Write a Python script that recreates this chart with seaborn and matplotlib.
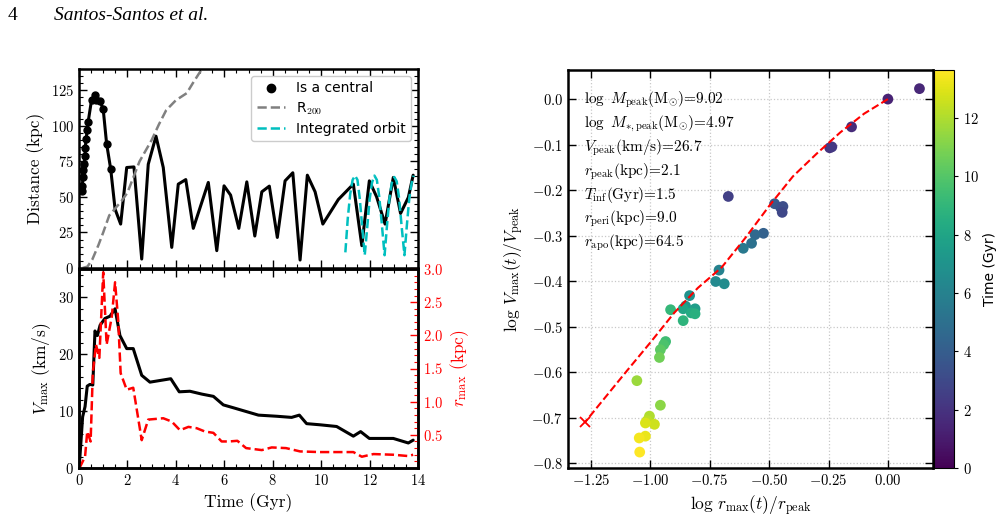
import numpy as np
import pandas as pd
import seaborn as sns
import matplotlib.pyplot as plt
from matplotlib.ticker import MultipleLocator
from matplotlib.cm import ScalarMappable
from matplotlib.colors import Normalize
from matplotlib.lines import Line2D

# ---- data: distance from host ----
t_dist = [0.11, 0.14, 0.16, 0.18, 0.22, 0.25, 0.26, 0.29, 0.34, 0.38, 0.52, 0.66, 0.70, 0.87, 1.0, 1.14, 1.31,
          1.49, 1.72, 1.97, 2.27, 2.59, 2.86, 3.18, 3.48, 3.83, 4.10, 4.41, 4.72, 5.34, 5.69, 5.99, 6.26,
          6.60, 6.93, 7.26, 7.55, 7.86, 8.19, 8.51, 8.83, 9.13, 9.43, 9.75, 10.07, 10.71, 11.33, 11.68,
          11.99, 12.29, 12.64, 12.98, 13.28, 13.60, 13.80]
dist = [54, 58, 63.7, 68.8, 73.5, 78.9, 84.7, 90.6, 96.9, 103, 118.4, 121.5, 118.4, 117.5, 111.6, 87.5, 69.5,
        41.4, 30.9, 70.7, 71.1, 6.3, 73, 92.7, 70.7, 14.5, 59, 62.2, 27.9, 60.2, 12.2, 57.8, 51.3,
        27.9, 60.6, 22.5, 53.6, 57.6, 21.5, 61.3, 67, 5.6, 65.3, 53.6, 30.9, 48.2, 59, 15.7,
        61.3, 50.1, 30.9, 63.7, 38.4, 49.6, 65.3]
n_central = 17

t_r200 = [0.15, 0.35, 0.55, 0.8, 1.0, 1.25, 1.5, 1.75, 2.0, 2.5, 3.0, 3.3, 3.6, 4.0, 4.45, 4.7, 5.0, 5.2]
r200 = [0, 1, 6, 16, 25, 37, 42, 47, 53, 75, 90, 101, 111, 118, 123, 130, 138, 145]

t_orbit = [11.0, 11.1, 11.2, 11.3, 11.4, 11.5, 11.6, 11.7, 11.8, 11.9, 12.0, 12.1, 12.2, 12.3, 12.4,
           12.5, 12.62, 12.72, 12.82, 12.92, 13.02, 13.12, 13.22, 13.32, 13.44, 13.54, 13.64, 13.74, 13.82]
d_orbit = [11, 35, 52, 62, 65, 62, 48, 28, 9, 28, 48, 60, 65, 62, 50,
           32, 9, 30, 49, 60, 64, 61, 49, 30, 9, 30, 49, 60, 65]

# ---- data: Vmax and rmax ----
t_vmax = [0.01, 0.15, 0.25, 0.34, 0.45, 0.57, 0.66, 0.76, 0.87, 1.07, 1.28, 1.49, 1.69, 1.97, 2.24, 2.59,
          2.93, 3.79, 4.14, 4.58, 5.07, 5.55, 5.96, 6.37, 6.93, 7.41, 8.17, 8.78, 9.1, 9.4, 9.95, 10.64,
          11.33, 11.63, 11.99, 12.98, 13.6, 13.8]
vmax = [0.2, 9, 10.8, 14.4, 14.7, 14.6, 24.1, 23.3, 25.1, 26.3, 26.7, 28.0, 23.3, 21, 21, 16.3,
        15.1, 15.7, 13.4, 13.5, 13.0, 12.6, 11.1, 10.6, 9.9, 9.3, 9.1, 8.9, 9.3, 7.8, 7.6, 7.3,
        5.6, 6.4, 5.2, 5.2, 4.4, 4.9]

t_rmax = [0.02, 0.25, 0.34, 0.48, 0.57, 0.70, 0.84, 1.0, 1.14, 1.35, 1.49, 1.62, 1.72, 1.97, 2.24, 2.59,
          2.86, 3.48, 3.83, 4.17, 4.52, 4.86, 5.2, 5.55, 5.89, 6.2, 6.54, 6.9, 7.55, 7.96, 8.55, 9.13,
          9.95, 11.33, 11.68, 12.16, 12.98, 13.6, 13.8]
rmax = [0.0, 0.17, 0.55, 0.4, 1.43, 1.86, 1.66, 2.95, 1.86, 2.27, 2.80, 2.22, 1.43, 1.18, 1.21, 0.42,
        0.73, 0.75, 0.70, 0.57, 0.62, 0.60, 0.55, 0.53, 0.40, 0.40, 0.41, 0.30, 0.27, 0.31, 0.30, 0.25,
        0.24, 0.24, 0.17, 0.21, 0.20, 0.18, 0.20]

# ---- data: tidal track ----
log_r = [0.133, 0.0, -0.153, -0.245, -0.236, -0.672, -0.477, -0.452, -0.442, -0.445, -0.524, -0.559,
         -0.574, -0.609, -0.711, -0.725, -0.689, -0.835, -0.852, -0.812, -0.862, -0.828, -0.812, -0.862,
         -0.915, -0.936, -0.944, -0.958, -0.962, -0.958, -1.057, -1.004, -1.014, -0.983, -1.021, -1.021,
         -1.047, -1.045]
log_v = [0.023, 0.0, -0.061, -0.107, -0.105, -0.214, -0.230, -0.238, -0.236, -0.249, -0.295, -0.298,
         -0.317, -0.328, -0.376, -0.401, -0.406, -0.432, -0.455, -0.461, -0.461, -0.470, -0.472, -0.487,
         -0.463, -0.533, -0.540, -0.551, -0.568, -0.673, -0.619, -0.697, -0.707, -0.715, -0.712, -0.741,
         -0.745, -0.776]
t_snap = [1.5, 1.3, 1.7, 2.0, 2.25, 2.6, 3.8, 3.5, 3.2, 2.9, 4.2, 4.6,
          5.1, 5.5, 6.0, 6.4, 6.6, 6.9, 7.3, 7.6, 8.0, 8.3, 8.6, 8.8,
          9.1, 9.4, 9.8, 10.2, 10.7, 11.3, 11.6, 12.0, 12.3, 12.6, 12.9, 13.2,
          13.4, 13.6]
t_max = 13.65

track_x = [0.0, -0.1, -0.2, -0.3, -0.4, -0.5, -0.6, -0.7, -0.8, -0.9, -1.0, -1.1, -1.2, -1.275]
track_y = [0.0, -0.032, -0.073, -0.12, -0.17, -0.235, -0.305, -0.37, -0.415, -0.47, -0.535, -0.598, -0.662, -0.71]

info_lines = [r"$\log\ M_{\rm peak}({\rm M}_{\odot})$=9.02",
              r"$\log\ M_{*,{\rm peak}}({\rm M}_{\odot})$=4.97",
              r"$V_{\rm peak}$(km/s)=26.7",
              r"$r_{\rm peak}$(kpc)=2.1",
              r"$T_{\rm inf}$(Gyr)=1.5",
              r"$r_{\rm peri}$(kpc)=9.0",
              r"$r_{\rm apo}$(kpc)=64.5"]

sns.set_style("ticks")
plt.rcParams.update({
    "font.family": "serif",
    "font.serif": ["cmr10", "DejaVu Serif"],
    "mathtext.fontset": "cm",
    "axes.formatter.use_mathtext": True,
    "axes.unicode_minus": True,
    "axes.linewidth": 1.8,
    "axes.edgecolor": "black",
    "axes.labelcolor": "black",
    "text.color": "black",
    "xtick.color": "black",
    "ytick.color": "black",
    "xtick.direction": "in",
    "ytick.direction": "in",
    "xtick.labelsize": 10.5,
    "ytick.labelsize": 10.5,
    "axes.labelsize": 12.5,
})

fig = plt.figure(figsize=(10.02, 5.2), dpi=100)
ax1 = fig.add_axes([79 / 1002, 1 - 268 / 520, 339 / 1002, 199 / 520])
ax2 = fig.add_axes([79 / 1002, 1 - 468 / 520, 339 / 1002, 199 / 520])
ax3 = fig.add_axes([568 / 1002, 1 - 468 / 520, 365 / 1002, 398 / 520])
cax = fig.add_axes([934 / 1002, 1 - 468 / 520, 20 / 1002, 398 / 520])

fig.text(8 / 1002, 1 - 20 / 520, "4", family="Liberation Serif", fontsize=14)
fig.text(54 / 1002, 1 - 20 / 520, "Santos-Santos et al.", family="Liberation Serif",
         style="italic", fontsize=14)

# ---- top panel ----
sns.lineplot(x=t_dist, y=dist, ax=ax1, color="k", lw=2.2, sort=False, estimator=None)
ax1.plot(t_dist[:n_central], dist[:n_central], "o", color="k", ms=5)
sns.lineplot(x=t_r200, y=r200, ax=ax1, color="gray", lw=1.8, linestyle="--", sort=False, estimator=None)
sns.lineplot(x=t_orbit, y=d_orbit, ax=ax1, color="c", lw=1.8, linestyle="--", sort=False, estimator=None)
ax1.set_xlim(0, 14)
ax1.set_ylim(0, 140)
ax1.set_ylabel("Distance (kpc)")
ax1.xaxis.set_major_locator(MultipleLocator(2))
ax1.xaxis.set_minor_locator(MultipleLocator(0.5))
ax1.yaxis.set_major_locator(MultipleLocator(25))
ax1.yaxis.set_minor_locator(MultipleLocator(5))
ax1.tick_params(which="both", top=True, right=True, labelbottom=False)
ax1.tick_params(which="major", length=6, width=1)
ax1.tick_params(which="minor", length=3, width=0.8)
handles = [Line2D([], [], marker="o", color="k", ls="none", ms=6),
           Line2D([], [], color="gray", ls="--", lw=1.8),
           Line2D([], [], color="c", ls="--", lw=1.8)]
ax1.legend(handles, ["Is a central", r"R$_{200}$", "Integrated orbit"], loc="upper right",
           prop={"family": "DejaVu Sans", "size": 10}, framealpha=1, edgecolor="#cccccc",
           handlelength=2.0, borderpad=0.4, labelspacing=0.35)

# ---- bottom panel ----
sns.lineplot(x=t_vmax, y=vmax, ax=ax2, color="k", lw=2.2, sort=False, estimator=None)
ax2.set_xlim(0, 14)
ax2.set_ylim(0, 35)
ax2.set_xlabel("Time (Gyr)")
ax2.set_ylabel(r"$V_{\rm max}$ (km/s)")
ax2.xaxis.set_major_locator(MultipleLocator(2))
ax2.xaxis.set_minor_locator(MultipleLocator(0.5))
ax2.yaxis.set_major_locator(MultipleLocator(10))
ax2.yaxis.set_minor_locator(MultipleLocator(2))
ax2.tick_params(which="both", top=True, right=False)
ax2.tick_params(which="major", length=6, width=1)
ax2.tick_params(which="minor", length=3, width=0.8)

ax2r = ax2.twinx()
sns.lineplot(x=t_rmax, y=rmax, ax=ax2r, color="red", lw=1.8, linestyle="--", sort=False, estimator=None)
ax2r.set_ylim(0, 3.0)
ax2r.set_ylabel(r"$r_{\rm max}$ (kpc)", color="red")
ax2r.yaxis.set_major_locator(MultipleLocator(0.5))
ax2r.yaxis.set_minor_locator(MultipleLocator(0.1))
ax2r.tick_params(axis="y", which="both", colors="red", direction="in")
ax2r.tick_params(axis="y", which="major", length=6, width=1)
ax2r.tick_params(axis="y", which="minor", length=3, width=0.8)
ax2r.set_yticks([0.5, 1.0, 1.5, 2.0, 2.5, 3.0])
for s in ax2r.spines.values():
    s.set_linewidth(1.8)
    s.set_color("black")

# ---- right panel ----
df = pd.DataFrame({"logr": log_r, "logv": log_v, "time": t_snap})
sns.scatterplot(data=df, x="logr", y="logv", hue="time", palette="viridis", hue_norm=(0, t_max),
                s=60, edgecolor="none", legend=False, ax=ax3, zorder=3)
sns.lineplot(x=track_x, y=track_y, ax=ax3, color="red", lw=1.5, linestyle="--", sort=False,
             estimator=None, zorder=4)
ax3.plot(track_x[-1], track_y[-1], "x", color="red", ms=7, mew=1.3, zorder=4)
ax3.set_xlim(-1.347, 0.19)
ax3.set_ylim(-0.811, 0.064)
ax3.xaxis.set_major_locator(MultipleLocator(0.25))
ax3.yaxis.set_major_locator(MultipleLocator(0.1))
ax3.grid(True, ls=":", color="#c8c8c8", lw=0.9)
ax3.tick_params(which="major", top=True, right=True, length=6, width=1)
ax3.set_xlabel(r"$\log\,r_{\rm max}(t)/r_{\rm peak}$")
ax3.set_ylabel(r"$\log\,V_{\rm max}(t)/V_{\rm peak}$")
for i, line in enumerate(info_lines):
    ax3.text(0.045, 0.925 - i * 0.060, line, transform=ax3.transAxes, fontsize=11, va="center")

sm = ScalarMappable(norm=Normalize(0, t_max), cmap="viridis")
cb = fig.colorbar(sm, cax=cax)
cb.outline.set_linewidth(0.8)
cb.set_ticks([0, 2, 4, 6, 8, 10, 12])
cb.ax.tick_params(direction="out", length=3, width=0.8, labelsize=10.5)
cb.set_label("Time (Gyr)", family="DejaVu Sans", fontsize=10, labelpad=3)

fig.savefig("out.png", dpi=100)
